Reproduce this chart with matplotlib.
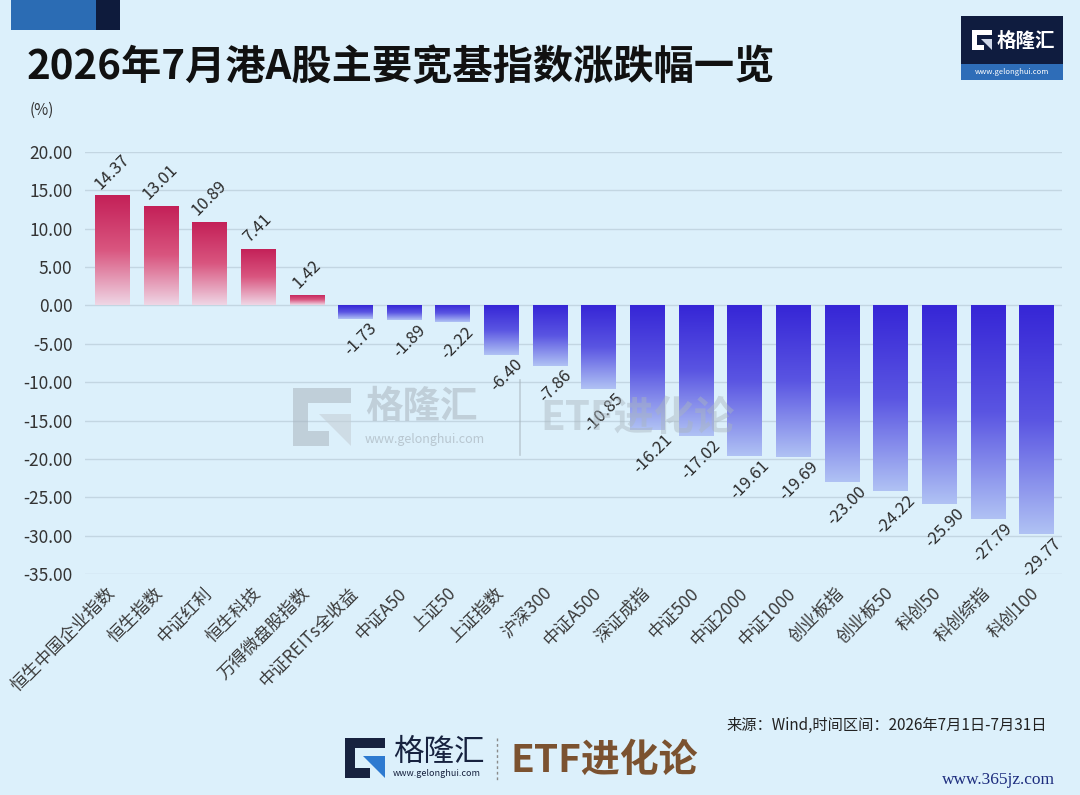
import numpy as np
import matplotlib
matplotlib.use('Agg')
import matplotlib.pyplot as plt
from matplotlib.patches import Rectangle, Polygon
from matplotlib.colors import LinearSegmentedColormap

plt.rcParams['font.family'] = ['Noto Sans CJK SC', 'DejaVu Sans']

categories = ['恒生中国企业指数', '恒生指数', '中证红利', '恒生科技', '万得微盘股指数',
              '中证REITs全收益', '中证A50', '上证50', '上证指数', '沪深300',
              '中证A500', '深证成指', '中证500', '中证2000', '中证1000',
              '创业板指', '创业板50', '科创50', '科创综指', '科创100']
values = [14.37, 13.01, 10.89, 7.41, 1.42, -1.73, -1.89, -2.22, -6.40, -7.86,
          -10.85, -16.21, -17.02, -19.61, -19.69, -23.00, -24.22, -25.90, -27.79, -29.77]
yticks = [20, 15, 10, 5, 0, -5, -10, -15, -20, -25, -30, -35]
title = '2026年7月港A股主要宽基指数涨跌幅一览'
source = '来源：Wind,时间区间：2026年7月1日-7月31日'

W, H = 1080, 795
BG = '#dcf0fb'
fig = plt.figure(figsize=(W / 100, H / 100), dpi=100)
fig.patch.set_facecolor(BG)

ax = fig.add_axes([85 / W, 1 - 574 / H, (1062 - 85) / W, (574 - 152) / H])
ax.set_facecolor('none')

pink = LinearSegmentedColormap.from_list('pink', ['#efd6e5', '#d9557f', '#c31f57'])
blue = LinearSegmentedColormap.from_list('blue', ['#b0c2f4', '#5a55e2', '#3626d6'])

x = np.arange(len(categories))
bars = ax.bar(x, values, width=0.7, color='none', edgecolor='none', zorder=2)
grad = np.linspace(1, 0, 256).reshape(-1, 1)
for b, v in zip(bars, values):
    x0, w = b.get_x(), b.get_width()
    y0, y1 = min(0, v), max(0, v)
    im = ax.imshow(grad, extent=[x0, x0 + w, y0, y1], cmap=pink if v > 0 else blue,
                   vmin=0, vmax=1, aspect='auto', origin='upper', zorder=2)
    im.set_clip_path(b)

for i, v in enumerate(values):
    if v >= 0:
        ax.annotate(f'{v:.2f}', (i, v), xytext=(0, 2), textcoords='offset points',
                    rotation=45, ha='center', va='bottom', fontsize=12, color='#2b2b2b')
    else:
        ax.annotate(f'{v:.2f}', (i, v), xytext=(4, -1), textcoords='offset points',
                    rotation=45, ha='center', va='top', fontsize=12, color='#2b2b2b')

ax.set_xlim(-0.555, 19.53)
ax.set_ylim(-35, 20)
ax.set_yticks(yticks)
ax.set_yticklabels([f'{v:.2f}' for v in yticks], fontsize=12.5, color='#333333')
ax.set_xticks(x)
ax.set_xticklabels(categories, rotation=45, ha='right', va='center',
                   rotation_mode='anchor', fontsize=12.5, color='#3a3a3a')
ax.tick_params(axis='y', length=0, pad=9)
ax.tick_params(axis='x', length=0, pad=12)
ax.yaxis.grid(True, color='#c3d6e2', lw=1)
ax.set_axisbelow(True)
for s in ax.spines.values():
    s.set_visible(False)

# overlay for decorations
ov = fig.add_axes([0, 0, 1, 1], zorder=5)
ov.set_xlim(0, W)
ov.set_ylim(H, 0)
ov.axis('off')
ov.patch.set_alpha(0)


def draw_g(x0, y0, s, color, accent, alpha=1.0):
    t = 0.26 * s
    ov.add_patch(Polygon([(x0, y0), (x0 + s, y0), (x0 + s, y0 + t), (x0 + t, y0 + t),
                          (x0 + t, y0 + s - t), (x0 + 0.62 * s, y0 + s - t),
                          (x0 + 0.62 * s, y0 + s), (x0, y0 + s)],
                         closed=True, color=color, alpha=alpha, lw=0))
    ov.add_patch(Polygon([(x0 + 0.45 * s, y0 + 0.45 * s), (x0 + s, y0 + 0.45 * s),
                          (x0 + s, y0 + s)], closed=True, color=accent, alpha=alpha, lw=0))


# top-left bars
ov.add_patch(Rectangle((11, 0), 85, 30, color='#2b6cb4', lw=0))
ov.add_patch(Rectangle((96, 0), 24, 30, color='#0e1b3c', lw=0))

ov.text(27, 68, title, fontsize=29, fontweight='bold', ha='left', va='center', color='#111111')
ov.text(30, 110, '(%)', fontsize=11, ha='left', va='center', color='#333333')

# top-right logo
ov.add_patch(Rectangle((961, 16), 102, 49, color='#0f1c3f', lw=0))
ov.add_patch(Rectangle((961, 64), 102, 16, color='#2e6db8', lw=0))
draw_g(972, 30, 20, 'white', '#cfd8e8')
ov.text(997, 41, '格隆汇', fontsize=14, fontweight='bold', color='white', ha='left', va='center')
ov.text(1012, 72, 'www.gelonghui.com', fontsize=5.5, color='white', ha='center', va='center')

# central watermark
wm = '#a9b5be'
draw_g(293, 388, 58, wm, '#c4cdd4', alpha=0.55)
ov.text(365, 406, '格隆汇', fontsize=27, fontweight='bold', color=wm, alpha=0.55, ha='left', va='center')
ov.text(365, 439, 'www.gelonghui.com', fontsize=9, color=wm, alpha=0.7, ha='left', va='center')
ov.plot([520, 520], [380, 455], color=wm, lw=1.2, alpha=0.6)
ov.text(540, 418, 'ETF进化论', fontsize=29, fontweight='bold', color=wm, alpha=0.45, ha='left', va='center')

# source
ov.text(1047, 725, source, fontsize=11, ha='right', va='center', color='#222222')

# bottom logo
draw_g(345, 738, 40, '#17223f', '#2e7ad0')
ov.text(393, 752, '格隆汇', fontsize=22, color='#17223f', ha='left', va='center')
ov.text(393, 773, 'www.gelonghui.com', fontsize=6.5, color='#17223f', ha='left', va='center')
ov.plot([497, 497], [738, 780], color='#8a8a8a', lw=1, ls=(0, (2, 2)))
ov.text(510, 760, 'ETF进化论', fontsize=28, fontweight='bold', color='#7b5230', ha='left', va='center')

ov.text(1055, 780, 'www.365jz.com', fontsize=12.5, family=['Liberation Serif', 'DejaVu Serif'],
        color='#1d2d7e', ha='right', va='center')

fig.savefig('out.png', dpi=100, facecolor=BG)
